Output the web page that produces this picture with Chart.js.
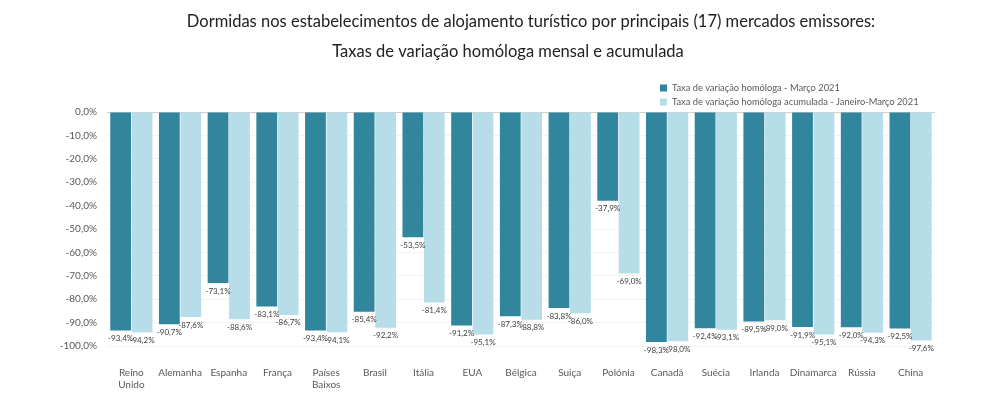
<!DOCTYPE html>
<html>
<head>
<meta charset="utf-8">
<script src="https://cdn.jsdelivr.net/npm/chart.js@4"></script>
<style>
  html, body { margin: 0; padding: 0; background: #fff; }
  #wrap { width: 1000px; height: 399px; position: relative; }
</style>
</head>
<body>
<div id="wrap"><canvas id="myChart"></canvas></div>
<script>
// Mercados emissores
const mercados = [['Reino', 'Unido'], 'Alemanha', 'Espanha', 'França', ['Países', 'Baixos'], 'Brasil', 'Itália', 'EUA',
    'Bélgica', 'Suiça', 'Polónia', 'Canadá', 'Suécia', 'Irlanda', 'Dinamarca', 'Rússia', 'China'];

// Taxa de variação homóloga - Março 2021
const taxaMarco = [-93.4, -90.7, -73.1, -83.1, -93.4, -85.4, -53.5, -91.2, -87.3, -83.8, -37.9, -98.3, -92.4, -89.5, -91.9, -92.0, -92.5];

// Taxa acumulada - Janeiro-Março 2021
const taxaAcumulada = [-94.2, -87.6, -88.6, -86.7, -94.1, -92.2, -81.4, -95.1, -88.8, -86.0, -69.0, -98.0, -93.1, -89.0, -95.1, -94.3, -97.6];

const titulos = [
    'Dormidas nos estabelecimentos de alojamento turístico por principais (17) mercados emissores:',
    'Taxas de variação homóloga mensal e acumulada'
];

const FONTE = 'Lato, "Open Sans", sans-serif';
const fmt = v => v.toFixed(1).replace('.', ',').replace('-0,0', '0,0') + '%';

// Titulos e legenda desenhados no canvas
const tituloPlugin = {
    id: 'titulo',
    afterDraw(chart) {
        const ctx = chart.ctx;
        ctx.save();
        ctx.fillStyle = '#222';
        ctx.font = '16.5px ' + FONTE;
        ctx.textAlign = 'center';
        ctx.textBaseline = 'middle';
        ctx.fillText(titulos[0], 531, 22);
        ctx.fillText(titulos[1], 508, 52);

        // legenda
        ctx.font = '9.3px ' + FONTE;
        ctx.textAlign = 'left';
        chart.data.datasets.forEach((ds, i) => {
            const y = 88 + i * 14;
            ctx.fillStyle = ds.backgroundColor;
            ctx.fillRect(660, y - 3.5, 7, 7);
            ctx.fillStyle = '#595959';
            ctx.fillText(ds.label, 672, y);
        });
        ctx.restore();
    }
};

// Rótulos de dados por baixo das barras
const rotulosPlugin = {
    id: 'rotulos',
    afterDatasetsDraw(chart) {
        const ctx = chart.ctx;
        ctx.save();
        ctx.font = '8px ' + FONTE;
        ctx.fillStyle = '#404040';
        ctx.textAlign = 'center';
        ctx.textBaseline = 'middle';
        chart.data.datasets.forEach((ds, i) => {
            chart.getDatasetMeta(i).data.forEach((bar, j) => {
                ctx.fillText(fmt(ds.data[j]), bar.x, bar.y + 8);
            });
        });
        ctx.restore();
    }
};

const ctx = document.getElementById('myChart').getContext('2d');
const myChart = new Chart(ctx, {
    type: 'bar',
    data: {
        labels: mercados,
        datasets: [{
            label: 'Taxa de variação homóloga - Março 2021',
            data: taxaMarco,
            backgroundColor: '#31859C',
            barPercentage: 0.97,
            categoryPercentage: 0.88
        }, {
            label: 'Taxa de variação homóloga acumulada - Janeiro-Março 2021',
            data: taxaAcumulada,
            backgroundColor: '#B7DEE8',
            barPercentage: 0.97,
            categoryPercentage: 0.88
        }]
    },
    options: {
        responsive: true,
        maintainAspectRatio: false,
        animation: false,
        layout: {
            padding: { top: 112, right: 65, left: 0, bottom: 0 }
        },
        plugins: {
            legend: { display: false },
            tooltip: { enabled: false }
        },
        scales: {
            y: {
                min: -100,
                max: 0,
                ticks: {
                    stepSize: 10,
                    padding: 10,
                    color: '#595959',
                    font: { family: FONTE, size: 10 },
                    callback: v => fmt(v)
                },
                grid: {
                    drawTicks: false,
                    color: c => c.tick.value === 0 ? '#d0d0d0' : '#f3f3f3'
                },
                border: { display: false },
                afterFit: s => { s.width = 107; }
            },
            x: {
                grid: { display: false },
                border: { display: false },
                ticks: {
                    padding: 13,
                    color: '#595959',
                    font: { family: FONTE, size: 10 },
                    maxRotation: 0,
                    autoSkip: false
                },
                afterFit: s => { s.height = 53; }
            }
        }
    },
    plugins: [tituloPlugin, rotulosPlugin]
});
</script>
</body>
</html>
